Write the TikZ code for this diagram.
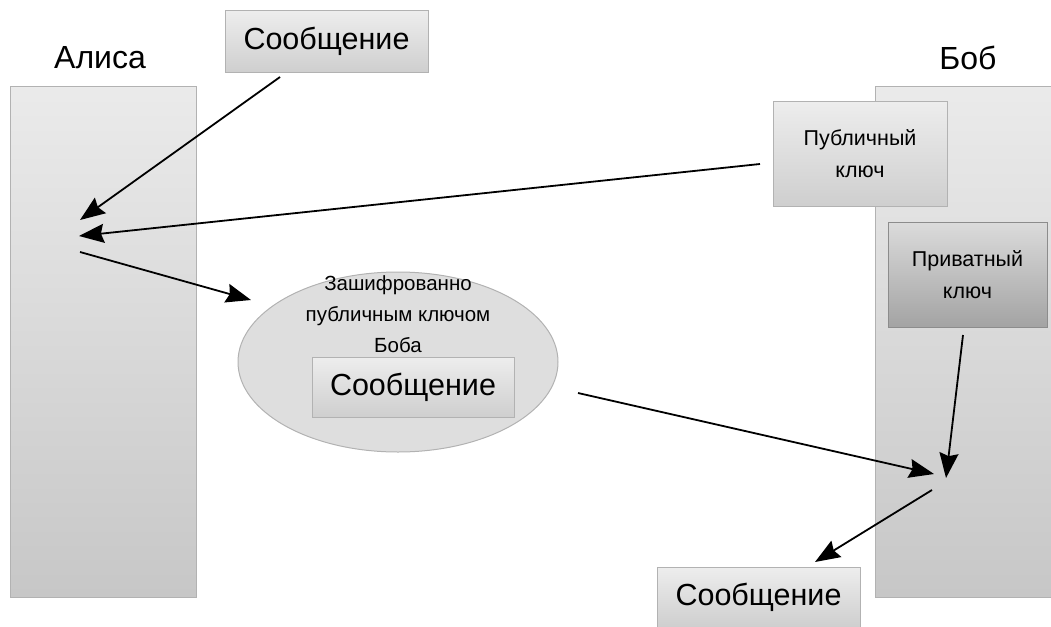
\documentclass[tikz,border=0pt]{standalone}
\usepackage{fontspec}
\setmainfont{Liberation Sans}
\usetikzlibrary{arrows.meta,shapes.geometric}
\tikzset{
  col/.style={draw=black!30, line width=1pt, top color=black!8, bottom color=black!22, minimum height=511pt, inner sep=0pt},
  msgbox/.style={draw=black!30, line width=1pt, top color=black!7, bottom color=black!19, inner sep=0pt, font=\fontsize{30.5}{32}\selectfont},
  keybox/.style={draw=black!30, line width=1pt, top color=black!7, bottom color=black!19, inner sep=0pt, align=center, font=\fontsize{21.5}{32}\selectfont},
  privbox/.style={draw=black!45, line width=1pt, top color=black!14, bottom color=black!36, inner sep=0pt, align=center, font=\fontsize{21.5}{32}\selectfont},
  lbl/.style={font=\fontsize{32}{34}\selectfont},
  arr/.style={-{Stealth[length=25pt,width=19pt,inset=3pt]}, line width=1.8pt},
}
\begin{document}
\begin{tikzpicture}[x=1pt,y=-1pt]
\useasboundingbox (0,0) rectangle (1051,626);
% columns
\node[col, minimum width=186pt] (alice) at (103,341.5) {};
\node[col, minimum width=178pt] (bob) at (964,341.5) {};
\node[lbl] (alicel) at (100,58) {Алиса};
\node[lbl] (bobl) at (968,58) {Боб};
% boxes
\node[msgbox, minimum width=203pt, minimum height=61pt] (msg1) at (326.5,41.5) {Сообщение};
\node[keybox, minimum width=174pt, minimum height=105pt] (pub) at (860,153.5) {Публичный\\ключ};
\node[privbox, minimum width=159pt, minimum height=105pt] (priv) at (967.5,274.5) {Приватный\\ключ};
\node[draw=black!30, line width=1pt, fill=black!13, ellipse, minimum width=320pt, minimum height=180pt, inner sep=0pt] (ell) at (398,362) {};
\node[align=center, font=\fontsize{20.5}{31}\selectfont] (enc) at (398,314) {Зашифрованно\\публичным ключом\\Боба};
\node[msgbox, minimum width=202pt, minimum height=60pt] (msg2) at (413,387) {Сообщение};
\node[msgbox, minimum width=203pt, minimum height=60pt] (msg3) at (758.5,597) {Сообщение};
% arrow points
\coordinate (a1s) at (280,77);
\coordinate (a1e) at (80,220);
\coordinate (a2s) at (760,164);
\coordinate (a2e) at (79,236);
\coordinate (a3s) at (80,252);
\coordinate (a3e) at (251,300);
\coordinate (a4s) at (578,393);
\coordinate (a4e) at (934,474);
\coordinate (a5s) at (963,335);
\coordinate (a5e) at (946,478);
\coordinate (a6s) at (932,490);
\coordinate (a6e) at (815,562);
\draw[arr] (a1s) -- (a1e);
\draw[arr] (a2s) -- (a2e);
\draw[arr] (a3s) -- (a3e);
\draw[arr] (a4s) -- (a4e);
\draw[arr] (a5s) -- (a5e);
\draw[arr] (a6s) -- (a6e);
\end{tikzpicture}
\end{document}
